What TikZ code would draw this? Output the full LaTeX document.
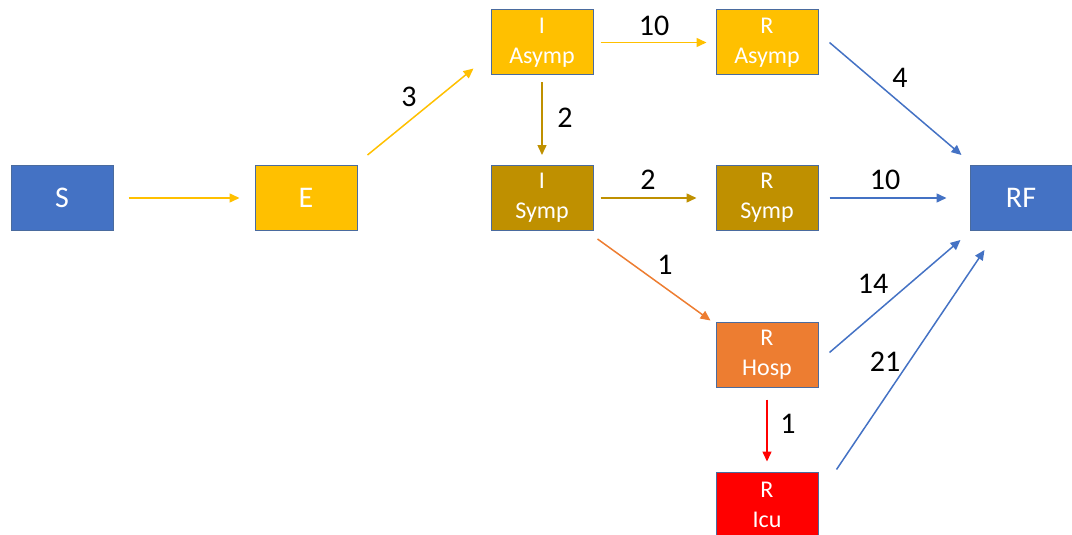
\documentclass[tikz,border=0pt]{standalone}
\usepackage{fontspec}
\setmainfont{Carlito}
\usetikzlibrary{arrows.meta}

\definecolor{cblue}{HTML}{4472C4}
\definecolor{cyellow}{HTML}{FFC000}
\definecolor{cgold}{HTML}{BF9000}
\definecolor{corange}{HTML}{ED7D31}
\definecolor{cred}{HTML}{FF0000}
\definecolor{cedge}{HTML}{4A6B9E}

\tikzset{
  box/.style={draw=cedge, line width=1pt, minimum width=102pt, minimum height=65pt,
    inner sep=0pt, text=white, align=center, font=\fontsize{24}{30}\selectfont},
  bigbox/.style={box, font=\fontsize{30}{34}\selectfont},
  flow/.style={line width=1.5pt, -{Triangle[length=10pt,width=9pt]}},
  lbl/.style={font=\fontsize{30}{34}\selectfont, text=black, inner sep=0pt}
}

\begin{document}
\begin{tikzpicture}[x=1pt,y=-1pt]
\useasboundingbox (0,0) rectangle (1072,535);

% compartments
\node[bigbox, fill=cblue]   (S)  at (62,198)    {S};
\node[bigbox, fill=cyellow] (E)  at (306,198)   {E};
\node[box, fill=cyellow]    (IA) at (542,42.5)  {I\\Asymp};
\node[box, fill=cyellow]    (RA) at (767,42.5)  {R\\Asymp};
\node[box, fill=cgold]      (IS) at (542,198)   {I\\Symp};
\node[box, fill=cgold]      (RS) at (767,198)   {R\\Symp};
\node[bigbox, fill=cblue]   (RF) at (1021,198)  {RF};
\node[box, fill=corange]    (RH) at (767,354.5) {R\\Hosp};
\node[box, fill=cred]       (RI) at (767,504.5) {R\\Icu};

% transitions
\draw[flow, cyellow, shorten <=15pt, shorten >=15pt] (S) -- (E);
\draw[flow, cyellow] ([shift={(10,-10)}]E.north east) -- ([shift={(-17,-7)}]IA.south west);
\draw[flow, cgold, shorten <=7pt, shorten >=10pt] (IA) -- (IS);
\draw[flow, cyellow, shorten <=7pt, shorten >=9pt] (IA) -- (RA);
\draw[flow, cgold, shorten <=7pt, shorten >=19pt] (IS) -- (RS);
\draw[flow, corange] ([shift={(4,8)}]IS.south east) -- ([shift={(-5,-1)}]RH.north west);
\draw[flow, cblue] ([shift={(11,0)}]RA.east) -- ([shift={(-8,-10)}]RF.north west);
\draw[flow, cblue, shorten <=11pt, shorten >=23pt] (RS) -- (RF);
\draw[flow, cblue] ([shift={(11,-2)}]RH.east) -- ([shift={(-9,9)}]RF.south west);
\draw[flow, cblue] ([shift={(18,-2)}]RI.north east) -- ([shift={(15,19)}]RF.south west);
\draw[flow, cred, shorten <=12pt, shorten >=10pt] (RH) -- (RI);

% durations
\node[lbl] (l1)  at (409,97)  {3};
\node[lbl] (l2)  at (565,118) {2};
\node[lbl] (l3)  at (654,26)  {10};
\node[lbl] (l4)  at (648,180) {2};
\node[lbl] (l5)  at (665,265) {1};
\node[lbl] (l6)  at (900,78)  {4};
\node[lbl] (l7)  at (885,180) {10};
\node[lbl] (l8)  at (873,284) {14};
\node[lbl] (l9)  at (885,362) {21};
\node[lbl] (l10) at (788,424) {1};
\end{tikzpicture}
\end{document}
